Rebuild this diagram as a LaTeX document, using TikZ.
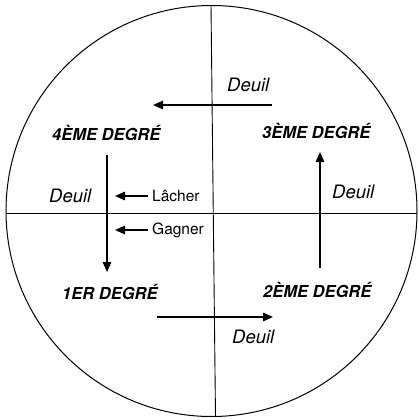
\documentclass[tikz,border=0pt]{standalone}
\usepackage{fontspec}
\setmainfont{TeX Gyre Heros}
\usetikzlibrary{arrows.meta}
\tikzset{
  lbl/.style={inner sep=0pt, anchor=base west},
  deg/.style={lbl, font=\fontsize{16.5}{18}\selectfont\bfseries\itshape},
  deuil/.style={lbl, font=\fontsize{18.5}{20}\selectfont\itshape},
  act/.style={lbl, font=\fontsize{15.5}{17}\selectfont},
  arr/.style={line width=1.5pt, -{Triangle[length=10pt,width=8.5pt]}},
  axis/.style={line width=0.9pt},
}
\begin{document}
\begin{tikzpicture}[x=1pt,y=-1pt]
\useasboundingbox (0,0) rectangle (418,420);
\draw[line width=1pt] (211.5,211) circle (205.5);
\draw[axis] (211,5) -- (215.5,417);
\draw[axis] (6,213) -- (417,213);

\node[deuil] (deuilTop) at (227,92) {Deuil};
\node[deg] (deg4) at (52,140) {4ÈME DEGRÉ};
\node[deg] (deg3) at (262,138) {3ÈME DEGRÉ};
\node[deuil] (deuilLeft) at (49,202) {Deuil};
\node[act] (lacher) at (152,201) {Lâcher};
\node[act] (gagner) at (152,234) {Gagner};
\node[deg] (deg1) at (62,299) {1ER DEGRÉ};
\node[deg] (deg2) at (263,297) {2ÈME DEGRÉ};
\node[deuil] (deuilRight) at (332,198) {Deuil};
\node[deuil] (deuilBottom) at (232,343) {Deuil};

\coordinate (t1) at (272,105); \coordinate (t2) at (153,105);
\coordinate (l1) at (107,155); \coordinate (l2) at (107,272);
\coordinate (la1) at (148,196); \coordinate (la2) at (115,196);
\coordinate (ga1) at (148,230); \coordinate (ga2) at (115,230);
\coordinate (r1) at (320,268); \coordinate (r2) at (320,152);
\coordinate (b1) at (157,317); \coordinate (b2) at (273,317);

\draw[arr] (t1) -- (t2);
\draw[arr] (l1) -- (l2);
\draw[arr] (la1) -- (la2);
\draw[arr] (ga1) -- (ga2);
\draw[arr] (r1) -- (r2);
\draw[arr] (b1) -- (b2);
\end{tikzpicture}
\end{document}
